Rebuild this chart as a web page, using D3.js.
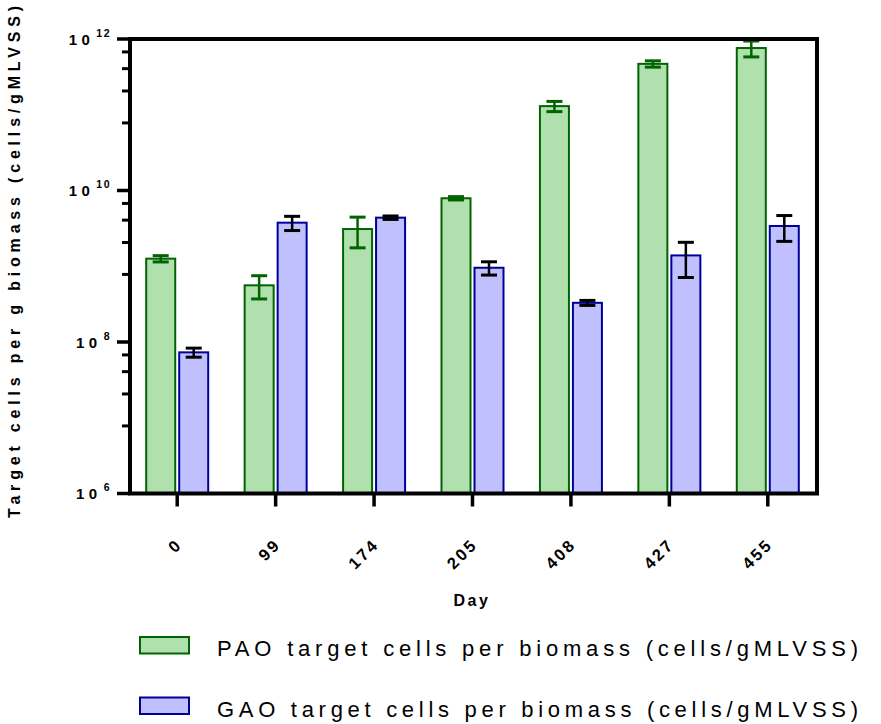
<!DOCTYPE html>
<html>
    <head>
        <meta charset="utf-8">
        <title>Target cells per biomass</title>
        <script src="https://d3js.org/d3.v7.min.js"></script>
        <style>
            body { margin: 0; background: #fff; }
            text { font-family: "Liberation Sans", Arial, sans-serif; fill: #000; }
        </style>
    </head>
    <body>
        <div id="container"></div>
        <script>
            // Data
            const days = ["0", "99", "174", "205", "408", "427", "455"]
            const series = ["PAO", "GAO"]
            const paoMean = [1.26e9, 5.6e8, 3.1e9, 7.9e9, 1.3e11, 4.7e11, 7.6e11]
            const paoSd = [0.12e9, 1.9e8, 1.35e9, 0.4e9, 0.2e11, 0.45e11, 1.8e11]
            const gaoMean = [7.3e7, 3.76e9, 4.38e9, 9.55e8, 3.29e8, 1.39e9, 3.4e9]
            const gaoSd = [1.0e7, 0.8e9, 0.23e9, 1.9e8, 0.25e8, 0.68e9, 1.27e9]
            const yMajorExp = [6, 8, 10, 12]
            const yMinorMult = [7.8, 20.6, 40.6, 67.5]
            const legendLabels = [
                "PAO target cells per biomass (cells/gMLVSS)",
                "GAO target cells per biomass (cells/gMLVSS)"
            ]

            const w = 881
            const h = 724
            const plotLeft = 130, plotRight = 817, plotTop = 39, plotBottom = 493.5

            const fills = { PAO: "#b0e0ae", GAO: "#c0c0ff" }
            const strokes = { PAO: "#006400", GAO: "#000099" }
            const errColors = { PAO: "#006400", GAO: "#000000" }

            const svg = d3.select("#container")
                .append("svg")
                .attr("width", w)
                .attr("height", h)

            // Scales
            const xScale = d3.scalePoint()
                .domain(days)
                .range([128, plotRight])
                .padding(0.5)

            const sub = d3.scaleBand()
                .domain(series)
                .range([-32, 32])
                .paddingInner(0.06)

            const yScale = d3.scaleLog()
                .domain([1e6, 1e12])
                .range([plotBottom, plotTop])

            const rows = []
            days.forEach((d, i) => {
                rows.push({ day: d, key: "PAO", mean: paoMean[i], sd: paoSd[i] })
                rows.push({ day: d, key: "GAO", mean: gaoMean[i], sd: gaoSd[i] })
            })

            // Bars
            svg.append("g").selectAll("rect")
                .data(rows)
                .enter()
                .append("rect")
                .attr("x", d => xScale(d.day) + sub(d.key) + 1)
                .attr("y", d => yScale(d.mean))
                .attr("width", sub.bandwidth() - 2)
                .attr("height", d => plotBottom - yScale(d.mean))
                .attr("fill", d => fills[d.key])
                .attr("stroke", d => strokes[d.key])
                .attr("stroke-width", 2)

            // Error bars
            const err = svg.append("g").selectAll("g")
                .data(rows)
                .enter()
                .append("g")
                .attr("stroke", d => errColors[d.key])
            const cx = d => xScale(d.day) + sub(d.key) + sub.bandwidth() / 2
            err.append("line")
                .attr("x1", cx).attr("x2", cx)
                .attr("y1", d => yScale(d.mean + d.sd))
                .attr("y2", d => yScale(d.mean - d.sd))
                .attr("stroke-width", 2.5)
            err.append("line")
                .attr("x1", d => cx(d) - 8).attr("x2", d => cx(d) + 8)
                .attr("y1", d => yScale(d.mean + d.sd))
                .attr("y2", d => yScale(d.mean + d.sd))
                .attr("stroke-width", 3)
            err.append("line")
                .attr("x1", d => cx(d) - 8).attr("x2", d => cx(d) + 8)
                .attr("y1", d => yScale(d.mean - d.sd))
                .attr("y2", d => yScale(d.mean - d.sd))
                .attr("stroke-width", 3)

            // Frame
            svg.append("rect")
                .attr("x", plotLeft)
                .attr("y", plotTop)
                .attr("width", plotRight - plotLeft)
                .attr("height", plotBottom - plotTop)
                .attr("fill", "none")
                .attr("stroke", "#000")
                .attr("stroke-width", 4)

            // Y axis ticks
            const majorVals = yMajorExp.map(e => Math.pow(10, e))
            const minorVals = []
            yMajorExp.slice(0, -1).forEach(e => {
                yMinorMult.forEach(m => minorVals.push(m * Math.pow(10, e)))
            })
            const yAxis = svg.append("g")
            yAxis.selectAll("line.major")
                .data(majorVals)
                .enter()
                .append("line")
                .attr("x1", plotLeft - 13).attr("x2", plotLeft)
                .attr("y1", d => yScale(d)).attr("y2", d => yScale(d))
                .attr("stroke", "#000").attr("stroke-width", 3.5)
            yAxis.selectAll("line.minor")
                .data(minorVals)
                .enter()
                .append("line")
                .attr("x1", plotLeft - 8).attr("x2", plotLeft)
                .attr("y1", d => yScale(d)).attr("y2", d => yScale(d))
                .attr("stroke", "#000").attr("stroke-width", 3)

            const yLabels = yAxis.selectAll("text")
                .data(yMajorExp)
                .enter()
                .append("text")
                .attr("x", 111)
                .attr("y", e => yScale(Math.pow(10, e)) + 5.5)
                .attr("text-anchor", "end")
                .attr("font-weight", "bold")
            yLabels.append("tspan")
                .attr("font-size", 15)
                .attr("letter-spacing", 4.5)
                .text("10")
            yLabels.append("tspan")
                .attr("font-size", 10.5)
                .attr("dy", -8)
                .attr("dx", 2)
                .attr("letter-spacing", 1.5)
                .text(e => e)

            // X axis ticks and labels
            const xAxis = svg.append("g")
            xAxis.selectAll("line")
                .data(days)
                .enter()
                .append("line")
                .attr("x1", d => xScale(d)).attr("x2", d => xScale(d))
                .attr("y1", plotBottom).attr("y2", plotBottom + 13)
                .attr("stroke", "#000").attr("stroke-width", 3.5)
            xAxis.selectAll("text")
                .data(days)
                .enter()
                .append("text")
                .attr("transform", d => "translate(" + (xScale(d) + 6) + "," + (plotBottom + 52) + ")rotate(-45)")
                .attr("text-anchor", "end")
                .attr("font-weight", "bold")
                .attr("font-size", 16.5)
                .attr("letter-spacing", 2.5)
                .text(d => d)

            // Axis titles
            svg.append("text")
                .attr("x", 472)
                .attr("y", 606)
                .attr("text-anchor", "middle")
                .attr("font-weight", "bold")
                .attr("font-size", 16)
                .attr("letter-spacing", 2.5)
                .text("Day")

            svg.append("text")
                .attr("transform", "translate(20,262)rotate(-90)")
                .attr("text-anchor", "middle")
                .attr("font-weight", "bold")
                .attr("font-size", 16)
                .attr("textLength", 512)
                .attr("lengthAdjust", "spacing")
                .text("Target cells per g biomass (cells/gMLVSS)")

            // Legend
            const legend = svg.append("g").selectAll("g")
                .data(series)
                .enter()
                .append("g")
                .attr("transform", (d, i) => "translate(140," + (637 + i * 60.5) + ")")
            legend.append("rect")
                .attr("width", 49)
                .attr("height", 16.5)
                .attr("fill", d => fills[d])
                .attr("stroke", d => strokes[d])
                .attr("stroke-width", 2)
            legend.append("text")
                .attr("x", 77)
                .attr("y", 19)
                .attr("font-size", 22)
                .attr("textLength", 641)
                .attr("lengthAdjust", "spacing")
                .text((d, i) => legendLabels[i])
        </script>
    </body>
</html>
